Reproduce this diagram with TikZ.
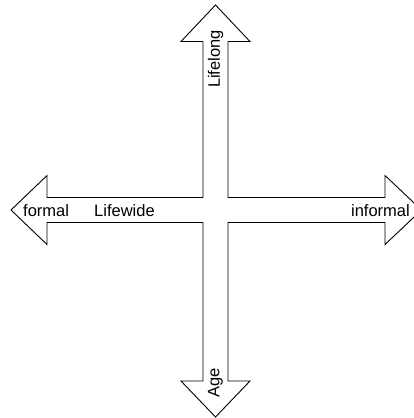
\documentclass[tikz,border=0pt]{standalone}
\usepackage{fontspec}
\setmainfont{Liberation Sans}
\begin{document}
\begin{tikzpicture}[x=1pt,y=-1pt,
  outline/.style={draw=black,line width=0.9pt,line join=miter,fill=white},
  lbl/.style={font=\fontsize{16.5}{19}\selectfont,inner sep=0pt,text=black}]
\useasboundingbox (0,0) rectangle (414,418);
\clip (0,0) rectangle (414,418);
\draw[outline] (215.5,5) -- (250,41.5) -- (228,41.5) -- (228,197.5) -- (385,197.5) -- (385,175.5)
  -- (421.5,210) -- (385,244.5) -- (385,222.5) -- (228,222.5) -- (228,381) -- (250,381)
  -- (215.5,417) -- (181,381) -- (203,381) -- (203,222.5) -- (47,222.5) -- (47,244.5)
  -- (11,210) -- (47,175.5) -- (47,197.5) -- (203,197.5) -- (203,41.5) -- (181,41.5) -- cycle;
\node[lbl,rotate=90] (lifelong) at (215.5,59) {Lifelong};
\node[lbl,rotate=90] (age) at (215.5,383) {Age};
\node[lbl,anchor=base west] (formal) at (23,216) {formal};
\node[lbl,anchor=base west] (lifewide) at (94,216) {Lifewide};
\node[lbl,anchor=base east] (informal) at (410,216) {informal};
\end{tikzpicture}
\end{document}
